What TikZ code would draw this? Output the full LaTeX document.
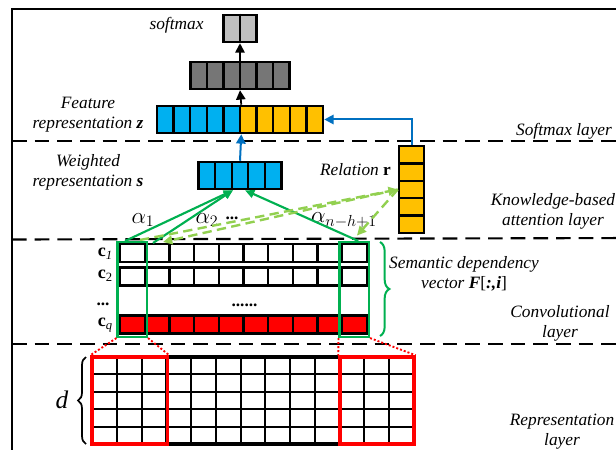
\documentclass[tikz,border=0pt]{standalone}
\usepackage{fontspec}
\setmainfont{Liberation Serif}
\usetikzlibrary{arrows.meta,decorations.pathreplacing}

\definecolor{cellblue}{HTML}{00B0F0}
\definecolor{cellyellow}{HTML}{FFC000}
\definecolor{darkcell}{HTML}{767676}
\definecolor{lightcell}{HTML}{BFBFBF}
\definecolor{attgreen}{HTML}{00B050}
\definecolor{lightgreen}{HTML}{92D050}
\definecolor{linkblue}{HTML}{0070C0}

\tikzset{
    bar/.style={draw, line width=1.9pt, minimum height=20.25pt, inner sep=0pt},
    divider/.style={line width=1.7pt},
    gridline/.style={line width=1.5pt},
    window/.style={draw=attgreen, line width=1.6pt, inner sep=0pt, minimum width=22.1pt, minimum height=71.25pt},
    redbox/.style={draw=red, line width=2.6pt, inner sep=0pt, minimum height=65.25pt},
    layerline/.style={line width=1.6pt, dash pattern=on 11pt off 6pt},
    layertext/.style={font=\fontsize{13}{15}\selectfont\itshape, align=center, inner sep=0pt},
    flow/.style={line width=1.3pt, -{Triangle[length=7pt,width=7pt]}},
    linkflow/.style={linkblue, line width=1.5pt, -{Triangle[length=7pt,width=7pt]}},
    attflow/.style={attgreen, line width=1.6pt, -{Triangle[length=7pt,width=6pt]}},
    relflow/.style={lightgreen, line width=1.8pt, dash pattern=on 7pt off 4pt, -{Triangle[length=7pt,width=6.5pt]}},
    zoomline/.style={red, line width=1.4pt, dash pattern=on 1.5pt off 1.5pt}
}

\begin{document}
\begin{tikzpicture}[x=0.75pt, y=-0.75pt]
    \useasboundingbox (0,0) rectangle (616,449);
    \clip (0,0) rectangle (616,449);

    % Frame and layer borders
    \draw[line width=1.5pt] (12,9) rectangle (700,520);
    \draw[layerline] (12,141) -- (640,141);
    \draw[layerline] (12,239.5) -- (640,238);
    \draw[layerline] (12,344) -- (640,344);

    % Output bars
    \node[bar, fill=lightcell, minimum width=24.75pt] (softmax) at (240,28.5) {};
    \draw[divider] (softmax.north) -- (softmax.south);
    \node[bar, fill=darkcell, minimum width=74.25pt] (hidden) at (240,75.5) {};
    \foreach \k in {1,...,5} \draw[divider] (190.5+16.5*\k,62) -- (190.5+16.5*\k,89);

    % Feature representation
    \node[bar, fill=cellblue, minimum width=62.25pt] (featblue) at (198.5,119.5) {};
    \node[bar, fill=cellyellow, minimum width=62.25pt] (featyellow) at (281.5,119.5) {};
    \foreach \k in {1,...,4} {
        \draw[divider] (157+16.6*\k,106) -- (157+16.6*\k,133);
        \draw[divider] (240+16.6*\k,106) -- (240+16.6*\k,133);
    }

    % Weighted representation and relation
    \node[bar, fill=cellblue, minimum width=62.25pt] (weighted) at (240,175.5) {};
    \foreach \k in {1,...,4} \draw[divider] (198.5+16.6*\k,162) -- (198.5+16.6*\k,189);
    \node[bar, fill=cellyellow, minimum width=18.75pt, minimum height=65.25pt] (relation) at (411.5,189.5) {};
    \foreach \k in {1,...,4} \draw[divider] (399,146+17.4*\k) -- (424,146+17.4*\k);

    % Convolutional rows
    \node[bar, minimum width=185.25pt, minimum height=13.5pt] (rowfirst) at (243.5,253) {};
    \node[bar, minimum width=185.25pt, minimum height=13.5pt] (rowsecond) at (243.5,276.5) {};
    \node[bar, fill=red, minimum width=185.25pt, minimum height=13.5pt] (rowlast) at (243.5,324.5) {};
    \foreach \y in {253,276.5,324.5}
        \foreach \k in {1,...,9} \draw[divider] (120+24.7*\k,\y-9) -- (120+24.7*\k,\y+9);
    \node[window] (winfirst) at (132.25,289.5) {};
    \node[window] (winlast) at (354.25,289.5) {};

    % Representation grid
    \node[draw, line width=2.4pt, minimum width=241.5pt, minimum height=65.25pt, inner sep=0pt] (embed) at (253,400.5) {};
    \foreach \k in {1,...,12} \draw[gridline] (92+24.77*\k,357) -- (92+24.77*\k,444);
    \foreach \k in {1,...,4} \draw[gridline] (92,357+17.4*\k) -- (414,357+17.4*\k);
    \node[redbox, minimum width=56.6pt] (redfirst) at (129.75,400.5) {};
    \node[redbox, minimum width=55.5pt] (redlast) at (377,400.5) {};

    % Braces
    \draw[attgreen, line width=1.5pt, decorate, decoration={brace, amplitude=7pt}] (380,242) -- (380,336);
    \draw[line width=1.3pt, decorate, decoration={brace, amplitude=6pt}] (86,444) -- (86,357);

    % Texts
    \node[layertext] (softname) at (176.5,25) {softmax};
    \node[layertext] (featname) at (88,114.5) {Feature\\representation \textbf{z}};
    \node[layertext] (weightname) at (88,172) {Weighted\\representation \textbf{s}};
    \node[layertext] (relname) at (355.5,170) {Relation \textbf{\upshape r}};
    \node[layertext] (softlayer) at (564,131) {Softmax layer};
    \node[layertext] (attlayer) at (553,211.5) {Knowledge-based\\attention layer};
    \node[layertext] (semvec) at (464,274) {Semantic dependency\\vector \textbf{F}{\upshape[}\textbf{:,i}{\upshape]}};
    \node[layertext] (convlayer) at (560,323) {Convolutional\\layer};
    \node[layertext] (replayer) at (562,432) {Representation\\layer};
    \node[layertext, font=\fontsize{19}{20}\selectfont\itshape] (dimd) at (62,400) {d};
    \node[layertext, font=\fontsize{13.5}{15}\selectfont, anchor=east] (cfirst) at (113,254) {\textbf{c}\textsubscript{\itshape 1}};
    \node[layertext, font=\fontsize{13.5}{15}\selectfont, anchor=east] (csecond) at (113,276) {\textbf{c}\textsubscript{2}};
    \node[layertext, font=\fontsize{13}{15}\selectfont] (cdots) at (103,304) {\textbf{...}};
    \node[layertext, font=\fontsize{13.5}{15}\selectfont, anchor=east] (clast) at (113,325) {\textbf{c}\textsubscript{\itshape q}};
    \node[layertext, font=\fontsize{13}{15}\selectfont] (rowdots) at (244.5,305) {\textbf{......}};
    \node[layertext, font=\fontsize{17}{18}\selectfont] (alphafirst) at (143,220) {$\alpha_1$};
    \node[layertext, font=\fontsize{17}{18}\selectfont] (alphasecond) at (207,220) {$\alpha_2$};
    \node[layertext, font=\fontsize{13}{15}\selectfont] (alphadots) at (232,218) {\textbf{...}};
    \node[layertext, font=\fontsize{17}{18}\selectfont] (alphalast) at (344,220) {$\alpha_{n-h+1}$};

    % Arrows
    \draw[flow] (hidden.north) -- (softmax.south);
    \draw[flow] (featblue.north east) -- (hidden.south);
    \draw[linkflow] (weighted.north) -- (featblue.south east);
    \draw[linkflow] (relation.north) |- (featyellow.east);

    \coordinate (fromfirst) at (125,241);
    \coordinate (fromsecond) at (153,243);
    \draw[attflow] (fromfirst) -- ([xshift=-5.25pt]weighted.south);
    \draw[attflow] (fromsecond) -- ([xshift=-5.25pt]weighted.south);
    \draw[attflow] ([xshift=3pt]winlast.north) -- ([xshift=3.75pt]weighted.south);

    \coordinate (backfirst) at (140,240);
    \coordinate (backsecond) at (163,242);
    \draw[relflow] (backfirst) -- (relation.west);
    \draw[relflow] (relation.west) -- (backsecond);
    \draw[relflow] (relation.west) -- ([xshift=2pt,yshift=4pt]winlast.north);

    \draw[zoomline] (winfirst.south west) -- (redfirst.north west);
    \draw[zoomline] (winfirst.south east) -- (redfirst.north east);
    \draw[zoomline] (winlast.south west) -- (redlast.north west);
    \draw[zoomline] (winlast.south east) -- (redlast.north east);
\end{tikzpicture}
\end{document}
